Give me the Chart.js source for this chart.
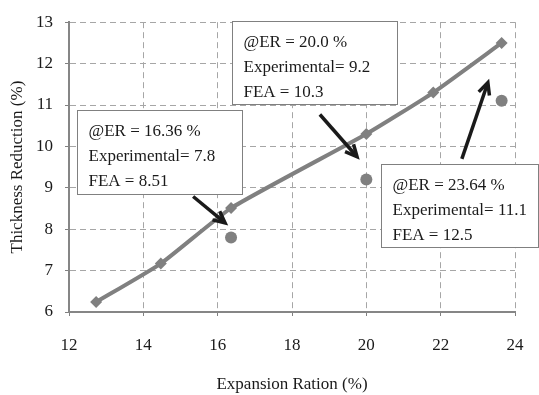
<!DOCTYPE html>
<html>
<head>
<meta charset="utf-8">
<script src="https://cdn.jsdelivr.net/npm/chart.js@4"></script>
<style>
  html, body { margin: 0; padding: 0; background: #fff; }
  #wrap { width: 539px; height: 395px; }
</style>
</head>
<body>
<div id="wrap"><canvas id="myChart" width="539" height="395"></canvas></div>
<script>
// FEA curve
const feaER = [12.73, 14.47, 16.36, 20.0, 21.8, 23.64];
const feaTR = [6.24, 7.17, 8.51, 10.3, 11.3, 12.5];
// experimental points
const expER = [16.36, 20.0, 23.64];
const expTR = [7.8, 9.2, 11.1];

const xTicks = [12, 14, 16, 18, 20, 22, 24];
const yTicks = [6, 7, 8, 9, 10, 11, 12, 13];

const noteLines = [
  ['@ER = 16.36 %', 'Experimental= 7.8', 'FEA = 8.51'],
  ['@ER = 20.0 %', 'Experimental= 9.2', 'FEA = 10.3'],
  ['@ER = 23.64 %', 'Experimental= 11.1', 'FEA = 12.5']
];

// where the boxes and arrows sit (data coords), box size in px
const notes = [
  { bx: 12.22, by: 10.89, w: 165, h: 84, a: [15.34, 8.79, 16.2, 8.15] },
  { bx: 16.38, by: 13.02, w: 165, h: 83, a: [18.75, 10.77, 19.75, 9.75] },
  { bx: 20.39, by: 9.58, w: 157, h: 83, a: [22.57, 9.7, 23.27, 11.54] }
];

const serif = 'Liberation Serif';

const notesPlugin = {
  id: 'notes',
  afterDraw(chart) {
    const ctx = chart.ctx;
    const xs = chart.scales.x, ys = chart.scales.y;
    ctx.save();
    notes.forEach((n, i) => {
      const x = Math.round(xs.getPixelForValue(n.bx)) + 0.5;
      const y = Math.round(ys.getPixelForValue(n.by)) + 0.5;
      ctx.fillStyle = '#fff';
      ctx.strokeStyle = '#808080';
      ctx.lineWidth = 1;
      ctx.fillRect(x, y, n.w, n.h);
      ctx.strokeRect(x, y, n.w, n.h);
      ctx.fillStyle = '#1a1a1a';
      ctx.font = '17px "' + serif + '"';
      ctx.textBaseline = 'middle';
      noteLines[i].forEach((t, k) => {
        ctx.fillText(t, x + 11, y + 21 + k * 25);
      });

      // arrow
      const x1 = xs.getPixelForValue(n.a[0]), y1 = ys.getPixelForValue(n.a[1]);
      const x2 = xs.getPixelForValue(n.a[2]), y2 = ys.getPixelForValue(n.a[3]);
      const ang = Math.atan2(y2 - y1, x2 - x1);
      ctx.strokeStyle = '#1a1a1a';
      ctx.lineWidth = 3.5;
      ctx.lineCap = 'butt';
      ctx.beginPath();
      ctx.moveTo(x1, y1);
      ctx.lineTo(x2 - Math.cos(ang) * 2, y2 - Math.sin(ang) * 2);
      ctx.stroke();
      ctx.lineJoin = 'miter';
      ctx.beginPath();
      ctx.moveTo(x2 - Math.cos(ang - 0.45) * 13, y2 - Math.sin(ang - 0.45) * 13);
      ctx.lineTo(x2, y2);
      ctx.lineTo(x2 - Math.cos(ang + 0.45) * 13, y2 - Math.sin(ang + 0.45) * 13);
      ctx.stroke();
    });
    ctx.restore();
  }
};

const ctx = document.getElementById('myChart');

new Chart(ctx, {
  type: 'scatter',
  data: {
    datasets: [{
      label: 'FEA',
      data: feaER.map((v, i) => ({ x: v, y: feaTR[i] })),
      showLine: true,
      borderColor: '#808080',
      backgroundColor: '#808080',
      borderWidth: 4,
      tension: 0.15,
      pointStyle: 'rectRot',
      pointRadius: 6,
      pointBorderWidth: 0
    }, {
      label: 'Experimental',
      data: expER.map((v, i) => ({ x: v, y: expTR[i] })),
      showLine: false,
      backgroundColor: '#808080',
      borderColor: '#808080',
      pointStyle: 'circle',
      pointRadius: 6,
      pointBorderWidth: 0
    }]
  },
  options: {
    responsive: false,
    animation: false,
    layout: { padding: { top: 19, right: 24, left: 0, bottom: 0 } },
    plugins: { legend: { display: false }, tooltip: { enabled: false } },
    scales: {
      x: {
        type: 'linear',
        min: 12, max: 24,
        afterBuildTicks: s => { s.ticks = xTicks.map(v => ({ value: v })); },
        afterFit: s => { s.height = 83; s.paddingLeft = 0; s.paddingRight = 0; },
        ticks: { color: '#1a1a1a', font: { family: serif, size: 17 }, padding: 19 },
        grid: { color: '#a6a6a6', lineWidth: 1, tickLength: 4, tickColor: '#808080', tickWidth: 1 },
        border: { color: '#868686', width: 2, dash: [6, 4] },
        title: { display: true, text: 'Expansion Ration (%)', color: '#1a1a1a',
                 font: { family: serif, size: 17 }, padding: { top: 0, bottom: 0 } }
      },
      y: {
        min: 6, max: 13,
        afterBuildTicks: s => { s.ticks = yTicks.map(v => ({ value: v })); },
        afterFit: s => { s.width = 69; },
        ticks: { color: '#1a1a1a', font: { family: serif, size: 17 }, padding: 12 },
        grid: { color: '#a6a6a6', lineWidth: 1, tickLength: 4, tickColor: '#808080', tickWidth: 1 },
        border: { color: '#868686', width: 2, dash: [6, 4] },
        title: { display: true, text: 'Thickness Reduction (%)', color: '#1a1a1a',
                 font: { family: serif, size: 17 }, padding: { top: 7, bottom: 0 } }
      }
    }
  },
  plugins: [notesPlugin]
});
</script>
</body>
</html>
